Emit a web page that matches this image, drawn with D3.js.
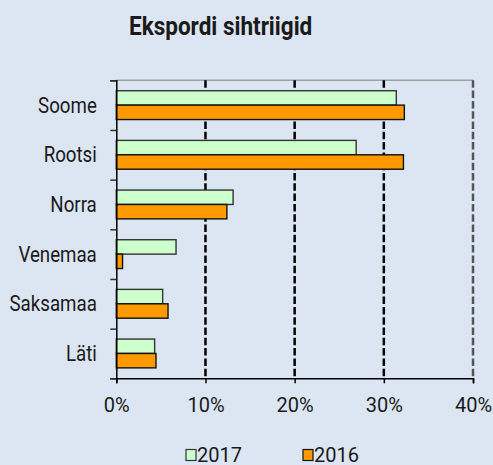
<!DOCTYPE html>
<html>
<head>
<meta charset="utf-8">
<script src="https://cdn.jsdelivr.net/npm/d3@7"></script>
<style>
  html, body { margin: 0; padding: 0; background: #dce6f2; }
  svg { display: block; }
  text { font-family: Roboto, "Noto Sans", sans-serif; fill: #1a1a1a; }
</style>
</head>
<body>
<svg id="chart" width="493" height="465"></svg>
<script>
const title = "Ekspordi sihtriigid";
const categories = ["Soome", "Rootsi", "Norra", "Venemaa", "Saksamaa", "Läti"];
const seriesNames = ["2017", "2016"];
const values2017 = [0.314, 0.269, 0.131, 0.067, 0.052, 0.043];
const values2016 = [0.323, 0.322, 0.124, 0.007, 0.058, 0.0445];
const xTicks = [0, 0.1, 0.2, 0.3, 0.4];
const colors = {"2017": "#ccffcc", "2016": "#ff9900"};
const strokes = {"2017": "#333333", "2016": "#111111"};

const W = 493, H = 465;
const margin = {left: 116.3, right: 20, top: 80.3, bottom: 86.7};
const svg = d3.select("#chart");
svg.append("rect").attr("width", W).attr("height", H).attr("fill", "#dce6f2");

const x = d3.scaleLinear().domain([0, 0.4]).range([margin.left, 473]);
const y0 = d3.scaleBand().domain(categories).range([margin.top, H - margin.bottom])
  .paddingInner(0.42).paddingOuter(0.21);
const y1 = d3.scaleBand().domain(seriesNames).range([0, y0.bandwidth()]);

const plotTop = margin.top, plotBottom = H - margin.bottom;

// top border
svg.append("line").attr("x1", x(0)).attr("x2", x(0.4))
  .attr("y1", plotTop).attr("y2", plotTop)
  .attr("stroke", "#a0a0a0").attr("stroke-width", 1.5);

// gridlines
svg.append("g").selectAll("line").data(xTicks.filter(d => d > 0)).join("line")
  .attr("x1", d => x(d)).attr("x2", d => x(d))
  .attr("y1", plotTop).attr("y2", plotBottom)
  .attr("stroke", d => d === 0.4 ? "#555555" : "#000000")
  .attr("stroke-width", 2.5)
  .attr("stroke-dasharray", "7.5,2.8");

// bars
const data = categories.map((c, i) => ({cat: c, vals: [
  {s: "2017", v: values2017[i]}, {s: "2016", v: values2016[i]}]}));
const groups = svg.append("g").selectAll("g").data(data).join("g")
  .attr("transform", d => `translate(0,${y0(d.cat)})`);
groups.selectAll("rect").data(d => d.vals).join("rect")
  .attr("x", x(0))
  .attr("y", d => y1(d.s))
  .attr("width", d => x(d.v) - x(0))
  .attr("height", y1.bandwidth())
  .attr("fill", d => colors[d.s])
  .attr("stroke", d => strokes[d.s])
  .attr("stroke-width", 1.4);

// left axis with ticks at band boundaries
const yLin = d3.scaleLinear().domain([0, categories.length]).range([plotTop, plotBottom]);
const leftAxis = svg.append("g").attr("transform", `translate(${x(0)},0)`)
  .call(d3.axisLeft(yLin).tickValues(d3.range(categories.length + 1)).tickSize(6).tickFormat(""));
leftAxis.select(".domain").attr("stroke", "#000").attr("stroke-width", 1.5);
leftAxis.selectAll(".tick line").attr("stroke", "#333").attr("stroke-width", 1.5);

// category labels (condensed look)
svg.append("g").selectAll("text").data(categories).join("text")
  .attr("transform", d => `translate(${x(0) - 19.5},${y0(d) + y0.bandwidth() / 2}) scale(0.87,1)`)
  .attr("text-anchor", "end").attr("dy", "0.35em")
  .attr("font-size", 21.5).attr("fill", "#1a1a1a")
  .text(d => d);

// bottom axis
const bottomAxis = svg.append("g").attr("transform", `translate(0,${plotBottom})`)
  .call(d3.axisBottom(x).tickValues(xTicks).tickFormat(d3.format(".0%")).tickSize(5).tickPadding(14.5));
bottomAxis.select(".domain").attr("stroke", "#000").attr("stroke-width", 1.5);
bottomAxis.selectAll(".tick line").attr("stroke", "#000").attr("stroke-width", 1.5);
bottomAxis.selectAll("text").attr("font-size", 20).attr("font-family", "Roboto").attr("fill", "#1a1a1a");

// title
svg.append("text").attr("transform", "translate(129,35) scale(0.85,1)")
  .attr("font-size", 26.5).attr("font-weight", "bold").attr("fill", "#111")
  .text(title);

// legend
const legendX = {"2017": 186, "2016": 303};
const lg = svg.append("g").selectAll("g").data(seriesNames).join("g")
  .attr("transform", d => `translate(${legendX[d]},449.5)`);
lg.append("rect").attr("width", 10).attr("height", 11)
  .attr("fill", d => colors[d]).attr("stroke", d => strokes[d]).attr("stroke-width", 1.2);
lg.append("text").attr("x", 11).attr("y", 12).attr("font-size", 20).text(d => d);
</script>
</body>
</html>
